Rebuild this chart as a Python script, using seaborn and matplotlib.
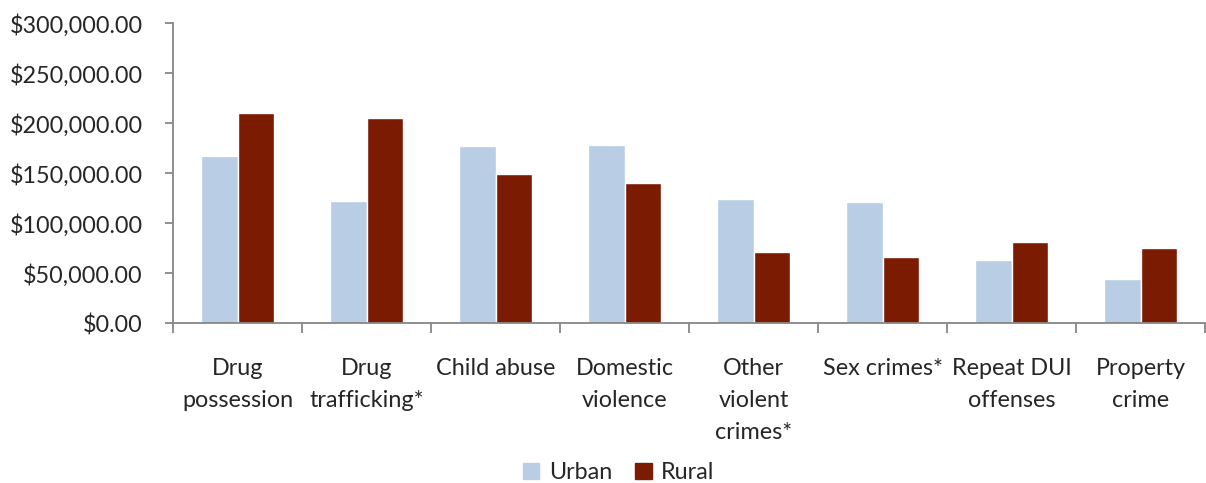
import matplotlib
matplotlib.use("Agg")
import matplotlib.pyplot as plt
import pandas as pd
import seaborn as sns
from matplotlib.ticker import FuncFormatter, FixedLocator

# values (cost per case, USD)
categories = ["Drug\npossession", "Drug\ntrafficking*", "Child abuse", "Domestic\nviolence",
              "Other\nviolent\ncrimes*", "Sex crimes*", "Repeat DUI\noffenses", "Property\ncrime"]
urban = [167300, 122000, 177300, 178000, 124700, 121300, 63300, 44300]
rural = [210000, 205000, 149700, 140300, 71300, 66000, 81000, 75000]
series = ["Urban", "Rural"]
colors = ["#B9CDE5", "#7B1C02"]

df = pd.DataFrame({"crime": categories * 2,
                   "cost": urban + rural,
                   "area": ["Urban"] * len(categories) + ["Rural"] * len(categories)})

sns.set_style("white")
plt.rcParams["font.family"] = ["Lato", "DejaVu Sans"]
fs = 16.8

fig = plt.figure(figsize=(12.06, 4.83), dpi=100)
ax = fig.add_axes([0.1435, 0.3306, 0.856, 0.6214])

sns.barplot(data=df, x="crime", y="cost", hue="area", hue_order=series,
            palette=colors, width=0.565, gap=0, saturation=1, ax=ax, legend=False)

ax.set_xlim(-0.5, len(categories) - 0.5)
ax.set_ylim(0, 300000)
ax.set_yticks(range(0, 300001, 50000))
ax.yaxis.set_major_formatter(FuncFormatter(lambda v, p: f"${v:,.2f}"))
ax.set_xticks(range(len(categories)))
ax.set_xticklabels(categories, linespacing=1.64)
ax.set_xlabel("")
ax.set_ylabel("")

axis_gray = "#868686"
for s in ["top", "right"]:
    ax.spines[s].set_visible(False)
for s in ["left", "bottom"]:
    ax.spines[s].set_color(axis_gray)
    ax.spines[s].set_linewidth(1.3)

ax.tick_params(axis="y", which="major", length=6, width=1.3, color=axis_gray,
               labelsize=fs, pad=16, direction="out", left=True)
ax.tick_params(axis="x", which="major", length=0, labelsize=fs, pad=25)
ax.xaxis.set_minor_locator(FixedLocator([i - 0.5 for i in range(len(categories) + 1)]))
ax.tick_params(axis="x", which="minor", length=7, width=1.3, color=axis_gray,
               direction="out", bottom=True)

handles = [plt.Rectangle((0, 0), 1, 1, color=c) for c in colors]
fig.legend(handles, series, loc="lower center", bbox_to_anchor=(0.513, -0.044), ncol=2,
           frameon=False, fontsize=fs, handlelength=0.7, handleheight=0.7,
           handletextpad=0.4, columnspacing=1.0)

fig.savefig("out.png", dpi=100)
